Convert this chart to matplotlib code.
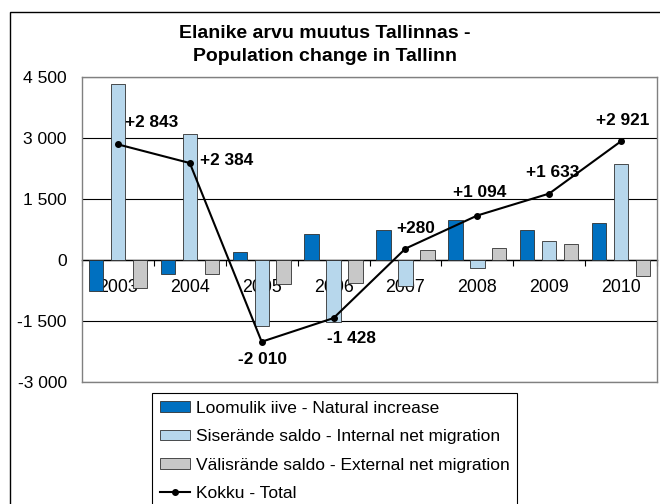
import matplotlib as mpl
mpl.use('Agg')
import matplotlib.pyplot as plt
import matplotlib.ticker as tick
from matplotlib.patches import Rectangle
import numpy as np

years = ['2003', '2004', '2005', '2006', '2007', '2008', '2009', '2010']
natural = [-760, -350, 190, 650, 750, 980, 750, 920]
internal = [4320, 3110, -1620, -1530, -650, -200, 460, 2350]
external = [-700, -350, -600, -570, 240, 300, 390, -390]
total = [2843, 2384, -2010, -1428, 280, 1094, 1633, 2921]

series_labels = ['Loomulik iive - Natural increase',
                 'Siserände saldo - Internal net migration',
                 'Välisrände saldo - External net migration',
                 'Kokku - Total']
yticks = [-3000, -1500, 0, 1500, 3000, 4500]

# label offsets in pixels (dx, dy, ha)
lab_off = [(7, 22, 'left'), (10, 3, 'left'), (1, -18, 'center'), (18, -20, 'center'),
           (10, 20, 'center'), (2, 23, 'center'), (3, 21, 'center'), (2, 21, 'center')]

plt.rcParams['font.family'] = ['Liberation Sans', 'DejaVu Sans']

fig = plt.figure(figsize=(6.6, 5.04), dpi=100)
ax1 = fig.add_axes([82/660, 1-382/504, 575/660, 305/504])

x = np.arange(len(years))
w = 0.2
d = 0.306
b1 = ax1.bar(x-d, natural, w, color='#0070c0', edgecolor='#303030', linewidth=0.6, label=series_labels[0], zorder=3)
b2 = ax1.bar(x, internal, w, color='#b7d7ec', edgecolor='#303030', linewidth=0.6, label=series_labels[1], zorder=3)
b3 = ax1.bar(x+d, external, w, color='#c8c8c8', edgecolor='#303030', linewidth=0.6, label=series_labels[2], zorder=3)
l1, = ax1.plot(x, total, color='black', linewidth=1.5, marker='o', markersize=4, label=series_labels[3], zorder=5)

for i, v in enumerate(total):
    dx, dy, ha = lab_off[i]
    txt = f"{v:+,}".replace(',', ' ')
    ax1.annotate(txt, (x[i], v), xytext=(dx, dy), textcoords='offset pixels',
                 ha=ha, va='center', fontsize=12.4, fontweight='bold', zorder=6)

ax1.set_xlim(-0.5, len(years)-0.5)
ax1.set_ylim(-3000, 4500)
ax1.set_yticks(yticks)
ax1.yaxis.set_major_formatter(tick.FuncFormatter(lambda v, p: f"{int(v):,}".replace(',', ' ')))
ax1.tick_params(axis='y', length=0, pad=11, labelsize=12.6)
ax1.set_xticks([])
ax1.grid(axis='y', color='black', linewidth=0.8, zorder=1)
for s in ax1.spines.values():
    s.set_color('#808080')
    s.set_linewidth(1.0)

# category axis on zero line
sec = ax1.secondary_xaxis(3000/7500)
sec.set_xticks(x, labels=years)
sec.set_xticks(np.arange(len(years)+1)-0.5, minor=True)
sec.tick_params(which='major', length=0, pad=14, labelsize=12.8)
sec.tick_params(which='minor', length=4, width=0.8, direction='out', color='black')
sec.spines['bottom'].set_color('black')
sec.spines['bottom'].set_linewidth(1.0)

fig.text(325/660, 1-45/504, 'Elanike arvu muutus Tallinnas -\nPopulation change in Tallinn',
         ha='center', va='center', fontsize=14, fontweight='bold', linespacing=1.4)

fig.add_artist(Rectangle((10/660, -0.1), 1.0, 1.1-12/504, transform=fig.transFigure,
                         fill=False, edgecolor='black', linewidth=1.0))

leg = fig.legend([b1, b2, b3, l1], series_labels, loc='upper left',
                 bbox_to_anchor=(152/660, 1-393/504), fontsize=12.5,
                 fancybox=False, edgecolor='black', framealpha=1, borderpad=0.45,
                 handlelength=1.72, handleheight=0.57, handletextpad=0.35, labelspacing=0.77,
                 borderaxespad=0)
leg.get_frame().set_linewidth(0.8)

plt.savefig('out.png', dpi=100)
